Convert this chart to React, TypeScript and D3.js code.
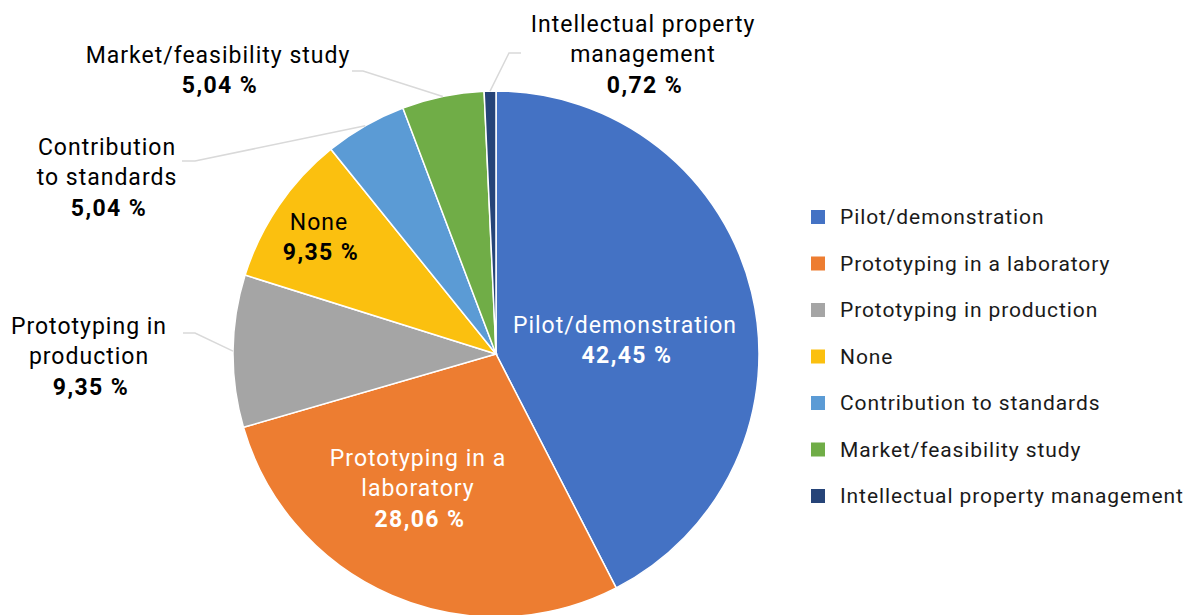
import React from "react";
import * as d3 from "d3";

const categories = [
  "Pilot/demonstration",
  "Prototyping in a laboratory",
  "Prototyping in production",
  "None",
  "Contribution to standards",
  "Market/feasibility study",
  "Intellectual property management",
];
const values = [42.45, 28.06, 9.35, 9.35, 5.04, 5.04, 0.72];
const valueLabels = ["42,45 %", "28,06 %", "9,35 %", "9,35 %", "5,04 %", "5,04 %", "0,72 %"];
const labelLines = [
  ["Pilot/demonstration"],
  ["Prototyping in a", "laboratory"],
  ["Prototyping in", "production"],
  ["None"],
  ["Contribution", "to standards"],
  ["Market/feasibility study"],
  ["Intellectual property", "management"],
];
const colors = ["#4472C4", "#ED7D31", "#A5A5A5", "#FBC00F", "#5B9BD5", "#70AD47", "#264478"];

// layout (label block centre x, first line centre y, text colour, leader elbow)
const labelLayout = [
  { x: 625, y: 325, fill: "#fff", leader: null },
  { x: 418, y: 458, fill: "#fff", leader: null },
  { x: 89, y: 326, fill: "#000", leader: { ex: 195, ey: 333, tx: 183 } },
  { x: 319, y: 222, fill: "#000", leader: null },
  { x: 107, y: 147, fill: "#000", leader: { ex: 195, ey: 161, tx: 182 } },
  { x: 218, y: 55, fill: "#000", leader: { ex: 363, ey: 71, tx: 352 } },
  { x: 643, y: 24, fill: "#000", leader: { ex: 509, ey: 53, tx: 521 } },
];

const W = 1195;
const H = 615;
const cx = 496;
const cy = 354;
const R = 263;
const FONT = "Roboto, 'DejaVu Sans', sans-serif";
const FS = 23;
const LH = 30.5;

export default function App() {
  const pie = d3.pie<number>().sort(null).value((d) => d);
  const arcs = pie(values);
  const arc = d3.arc<d3.PieArcDatum<number>>().innerRadius(0).outerRadius(R);
  const legendY = d3.scalePoint<string>().domain(categories).range([217, 496]);

  return (
    <svg
      width={W}
      height={H}
      style={{ position: "absolute", left: 0, top: 0, background: "#fff" }}
      fontFamily={FONT}
    >
      <g transform={`translate(${cx},${cy})`}>
        {arcs.map((a, i) => (
          <path key={i} d={arc(a) || ""} fill={colors[i]} stroke="#fff" strokeWidth={1.5} />
        ))}
      </g>
      {arcs.map((a, i) => {
        const L = labelLayout[i];
        if (!L.leader) return null;
        const mid = (a.startAngle + a.endAngle) / 2;
        const sx = cx + R * Math.sin(mid);
        const sy = cy - R * Math.cos(mid);
        return (
          <polyline
            key={"l" + i}
            points={`${sx},${sy} ${L.leader.ex},${L.leader.ey} ${L.leader.tx},${L.leader.ey}`}
            fill="none"
            stroke="#D9D9D9"
            strokeWidth={1.5}
          />
        );
      })}
      {labelLayout.map((L, i) => {
        const lines = labelLines[i];
        return (
          <g key={"t" + i} fill={L.fill} fontSize={FS} textAnchor="middle">
            {lines.map((ln, j) => (
              <text key={j} x={L.x} y={L.y + j * LH} dominantBaseline="central" letterSpacing={1}>
                {ln}
              </text>
            ))}
            <text
              x={L.x + 2}
              y={L.y + lines.length * LH}
              dominantBaseline="central"
              fontWeight="bold"
              letterSpacing={1.4}
            >
              {valueLabels[i]}
            </text>
          </g>
        );
      })}
      {categories.map((c, i) => (
        <g key={"lg" + i} transform={`translate(811,${legendY(c)})`}>
          <rect x={0} y={-7} width={14} height={14} fill={colors[i]} />
          <text x={29} y={0} dominantBaseline="central" fontSize={21} letterSpacing={0.9} fill="#1a1a1a">
            {c}
          </text>
        </g>
      ))}
    </svg>
  );
}
